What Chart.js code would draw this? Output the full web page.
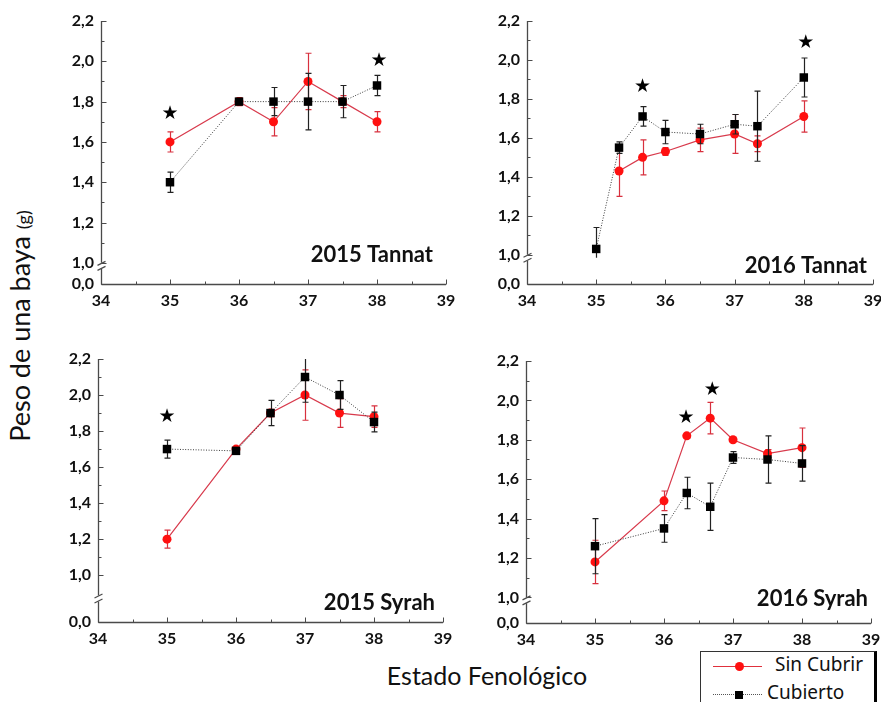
<!DOCTYPE html>
<html lang="es">
<head>
<meta charset="UTF-8">
<title>Peso de una baya</title>
<script src="https://cdn.jsdelivr.net/npm/chart.js"></script>
<style>
  html, body { margin: 0; padding: 0; background: #fff; overflow: hidden; }
  body { width: 881px; height: 702px; position: relative; font-family: Lato, sans-serif; color: #111; }
  canvas { position: absolute; }
  #ytitle { position: absolute; left: 19px; top: 326px; transform: translate(-50%, -50%) rotate(-90deg);
            white-space: nowrap; font-size: 27px; }
  #ytitle small { font-size: 18px; }
  #xtitle { position: absolute; left: 487px; top: 675px; transform: translate(-50%, -50%);
            white-space: nowrap; font-size: 25px; }
  .legend { position: absolute; left: 700px; top: 651px; width: 173px; height: 60px;
            border: 1px solid #333; border-right: 3px solid #000; font-family: "Noto Sans", sans-serif; font-size: 19px; }
  .legend .row { position: absolute; left: 0; height: 24px; width: 100%; }
  .legend .line { position: absolute; left: 12px; top: 12px; width: 49px; }
  .legend .mark { position: absolute; }
  .legend span.txt { position: absolute; top: -2px; line-height: 24px; }
</style>
</head>
<body>
<canvas id="p1" width="407" height="311" style="left:51px; top:1px"></canvas>
<canvas id="p2" width="408" height="311" style="left:477px; top:1px"></canvas>
<canvas id="p3" width="407" height="311" style="left:48px; top:339px"></canvas>
<canvas id="p4" width="407" height="310" style="left:476px; top:341px"></canvas>

<div id="ytitle">Peso de una baya <small>(g)</small></div>
<div id="xtitle">Estado Fenológico</div>

<div class="legend">
  <div class="row" style="top:2px">
    <div class="line" style="border-top:1.5px solid #e0303c"></div>
    <div class="mark" style="left:34px; top:8px; width:9px; height:9px; border-radius:50%; background:#ff1010"></div>
    <span class="txt" style="left:74px">Sin Cubrir</span>
  </div>
  <div class="row" style="top:30px">
    <div class="line" style="border-top:1.5px dotted #555"></div>
    <div class="mark" style="left:34px; top:9px; width:8px; height:8px; background:#000"></div>
    <span class="txt" style="left:66px">Cubierto</span>
  </div>
</div>

<script>
// escala X (estado fenológico) y escala Y (peso, g)
const xTicks = [34, 35, 36, 37, 38, 39];
const yTicks = [1.0, 1.2, 1.4, 1.6, 1.8, 2.0, 2.2];

// 2015 Tannat
const tannat15X = [35, 36, 36.5, 37, 37.5, 38];
const tannat15Sin = [1.60, 1.80, 1.70, 1.90, 1.80, 1.70];
const tannat15SinErr = [0.05, 0.02, 0.07, 0.14, 0.03, 0.05];
const tannat15Cub = [1.40, 1.80, 1.80, 1.80, 1.80, 1.88];
const tannat15CubErr = [0.05, 0.01, 0.07, 0.14, 0.08, 0.05];
const tannat15StarX = [35, 38.03];
const tannat15StarY = [1.74, 2.00];

// 2016 Tannat
const tannat16X = [35, 35.33, 35.67, 36, 36.5, 37, 37.33, 38];
const tannat16Sin = [null, 1.43, 1.50, 1.53, 1.59, 1.62, 1.57, 1.71];
const tannat16SinErr = [null, 0.13, 0.09, 0.02, 0.06, 0.10, 0.04, 0.08];
const tannat16Cub = [1.03, 1.55, 1.71, 1.63, 1.62, 1.67, 1.66, 1.91];
const tannat16CubErr = [0.11, 0.03, 0.05, 0.06, 0.05, 0.05, 0.18, 0.10];
const tannat16StarX = [35.67, 38.03];
const tannat16StarY = [1.86, 2.085];

// 2015 Syrah
const syrah15X = [35, 36, 36.5, 37, 37.5, 38];
const syrah15Sin = [1.20, 1.70, 1.90, 2.00, 1.90, 1.88];
const syrah15SinErr = [0.05, 0.01, 0.02, 0.14, 0.08, 0.06];
const syrah15Cub = [1.70, 1.69, 1.90, 2.10, 2.00, 1.85];
const syrah15CubErr = [0.05, 0.01, 0.07, 0.14, 0.08, 0.055];
const syrah15StarX = [35];
const syrah15StarY = [1.88];

// 2016 Syrah
const syrah16X = [35, 36, 36.33, 36.67, 37, 37.5, 38];
const syrah16Sin = [1.18, 1.49, 1.82, 1.91, 1.80, 1.73, 1.76];
const syrah16SinErr = [0.11, 0.05, 0.01, 0.08, 0.01, 0.02, 0.10];
const syrah16Cub = [1.26, 1.35, 1.53, 1.46, 1.71, 1.70, 1.68];
const syrah16CubErr = [0.14, 0.07, 0.08, 0.12, 0.03, 0.12, 0.09];
const syrah16StarX = [36.32, 36.70];
const syrah16StarY = [1.91, 2.05];

const AXIS = '#4a4a4a';
const RED_LINE = '#d83a4c';
const RED_ERR = '#d8303e';
const RED_DOT = '#ff1010';

function toPoints(xs, ys) {
  return xs.map((x, i) => ({ x: x, y: ys[i] })).filter(p => p.y !== null);
}
function toErrors(xs, ys, es) {
  return xs.map((x, i) => ({ x: x, y: ys[i], e: es[i] })).filter(p => p.y !== null);
}

// barras de error, ejes con marcas hacia adentro, corte del eje Y, asteriscos y título
const panelExtras = {
  id: 'panelExtras',
  beforeDatasetDraw(chart, args) {
    const ds = chart.data.datasets[args.index];
    if (!ds.errors) return;
    const xs = chart.scales.x, ys = chart.scales.y, ctx = chart.ctx;
    const area = chart.chartArea;
    const low = ys.getPixelForValue(chart.options.plugins.panelExtras.breakAt);
    ctx.save();
    ctx.strokeStyle = ds.errColor;
    ctx.lineWidth = 1.2;
    ds.errors.forEach(p => {
      const px = Math.round(xs.getPixelForValue(p.x)) + 0.5;
      const top = Math.max(area.top, ys.getPixelForValue(p.y + p.e));
      const bot = Math.min(low, ys.getPixelForValue(p.y - p.e));
      ctx.beginPath();
      ctx.moveTo(px, top); ctx.lineTo(px, bot);
      if (top > area.top + 0.5) { ctx.moveTo(px - 3, top); ctx.lineTo(px + 3, top); }
      if (bot < low - 0.5) { ctx.moveTo(px - 3, bot); ctx.lineTo(px + 3, bot); }
      ctx.stroke();
    });
    ctx.restore();
  },
  afterDraw(chart, args, opts) {
    const xs = chart.scales.x, ys = chart.scales.y, ctx = chart.ctx;
    const a = chart.chartArea;
    const L = Math.round(a.left) + 0.5, B = Math.round(a.bottom) + 0.5;
    const brk = ys.getPixelForValue(opts.breakAt);
    ctx.save();
    ctx.strokeStyle = AXIS;
    ctx.lineWidth = 1.3;
    // ejes
    ctx.beginPath();
    ctx.moveTo(L, B); ctx.lineTo(a.right, B);
    ctx.moveTo(L, B); ctx.lineTo(L, brk + 3);
    ctx.moveTo(L, brk - 3); ctx.lineTo(L, a.top);
    ctx.stroke();
    // marcas del eje X
    ctx.lineWidth = 1;
    ctx.beginPath();
    for (let v = xTicks[0]; v <= xTicks[xTicks.length - 1] + 1e-9; v += 0.5) {
      const px = Math.round(xs.getPixelForValue(v)) + 0.5;
      const len = Math.abs(v - Math.round(v)) < 1e-6 ? 5 : 3;
      ctx.moveTo(px, B); ctx.lineTo(px, B - len);
    }
    // marcas del eje Y
    ys.ticks.forEach(t => {
      const py = Math.round(ys.getPixelForValue(t.value)) + 0.5;
      ctx.moveTo(L, py); ctx.lineTo(L + 5, py);
    });
    for (let i = 0; i < yTicks.length - 1; i++) {
      const py = Math.round(ys.getPixelForValue((yTicks[i] + yTicks[i + 1]) / 2)) + 0.5;
      ctx.moveTo(L, py); ctx.lineTo(L + 3, py);
    }
    ctx.stroke();
    // corte del eje
    ctx.lineWidth = 1.2;
    ctx.beginPath();
    ctx.moveTo(L - 4, brk + 4.5); ctx.lineTo(L + 4, brk + 0.5);
    ctx.moveTo(L - 4, brk - 0.5); ctx.lineTo(L + 4, brk - 4.5);
    ctx.stroke();
    // asteriscos de significancia
    ctx.fillStyle = '#000';
    ctx.font = '19px "DejaVu Sans"';
    ctx.textAlign = 'center';
    ctx.textBaseline = 'middle';
    opts.starX.forEach((sx, i) => {
      ctx.fillText('\u2605', xs.getPixelForValue(sx), ys.getPixelForValue(opts.starY[i]));
    });
    // título del panel
    ctx.font = 'bold 22px Lato';
    ctx.textAlign = 'right';
    ctx.textBaseline = 'alphabetic';
    ctx.fillStyle = '#111';
    ctx.fillText(opts.title, a.right - opts.titleRight, a.bottom - opts.titleBottom);
    ctx.restore();
  }
};

function makePanel(id, p) {
  const tickFont = { family: 'Lato', size: 16, weight: 'bold' };
  return new Chart(document.getElementById(id), {
    type: 'line',
    data: {
      datasets: [
        {
          label: 'Cubierto',
          data: toPoints(p.x, p.cub),
          errors: toErrors(p.x, p.cub, p.cubErr),
          errColor: '#222',
          borderColor: '#3a3a3a',
          borderWidth: 1,
          borderDash: [1, 1.6],
          pointStyle: 'rect',
          pointRadius: 6,
          pointBackgroundColor: '#000',
          pointBorderWidth: 0,
          tension: 0
        },
        {
          label: 'Sin Cubrir',
          data: toPoints(p.x, p.sin),
          errors: toErrors(p.x, p.sin, p.sinErr),
          errColor: RED_ERR,
          borderColor: RED_LINE,
          borderWidth: 1.2,
          pointStyle: 'circle',
          pointRadius: 4.5,
          pointBackgroundColor: RED_DOT,
          pointBorderWidth: 0,
          tension: 0
        }
      ]
    },
    options: {
      responsive: false,
      animation: false,
      events: [],
      layout: { padding: { left: 0, top: 20, right: 12, bottom: 0 } },
      plugins: {
        legend: { display: false },
        tooltip: { enabled: false },
        panelExtras: {
          breakAt: p.breakAt, starX: p.starX, starY: p.starY,
          title: p.title, titleRight: p.titleRight, titleBottom: p.titleBottom
        }
      },
      scales: {
        x: {
          type: 'linear', min: xTicks[0], max: xTicks[xTicks.length - 1],
          grid: { display: false, drawTicks: false },
          border: { display: false },
          afterBuildTicks: s => { s.ticks = xTicks.map(v => ({ value: v })); },
          afterFit: s => { s.height = 28; s.paddingLeft = 0; s.paddingRight = 0; },
          ticks: { padding: 7, color: '#111', font: tickFont, autoSkip: false, maxRotation: 0 }
        },
        y: {
          type: 'linear', min: p.yMin, max: yTicks[yTicks.length - 1],
          grid: { display: false, drawTicks: false },
          border: { display: false },
          afterBuildTicks: s => { s.ticks = [p.yMin].concat(yTicks).map(v => ({ value: v })); },
          afterFit: s => { s.width = 50; s.paddingTop = 0; s.paddingBottom = 0; },
          ticks: {
            padding: 7, color: '#111', font: tickFont, autoSkip: false,
            callback: v => (v < 0.95 ? 0 : v).toFixed(1).replace('.', ',')
          }
        }
      }
    },
    plugins: [panelExtras]
  });
}

makePanel('p1', {
  x: tannat15X, sin: tannat15Sin, sinErr: tannat15SinErr, cub: tannat15Cub, cubErr: tannat15CubErr,
  starX: tannat15StarX, starY: tannat15StarY, yMin: 0.895, breakAt: 0.985,
  title: '2015 Tannat', titleRight: 13, titleBottom: 22
});
makePanel('p2', {
  x: tannat16X, sin: tannat16Sin, sinErr: tannat16SinErr, cub: tannat16Cub, cubErr: tannat16CubErr,
  starX: tannat16StarX, starY: tannat16StarY, yMin: 0.85, breakAt: 0.985,
  title: '2016 Tannat', titleRight: 6, titleBottom: 11
});
makePanel('p3', {
  x: syrah15X, sin: syrah15Sin, sinErr: syrah15SinErr, cub: syrah15Cub, cubErr: syrah15CubErr,
  starX: syrah15StarX, starY: syrah15StarY, yMin: 0.74, breakAt: 0.87,
  title: '2015 Syrah', titleRight: 8, titleBottom: 12
});
makePanel('p4', {
  x: syrah16X, sin: syrah16Sin, sinErr: syrah16SinErr, cub: syrah16Cub, cubErr: syrah16CubErr,
  starX: syrah16StarX, starY: syrah16StarY, yMin: 0.87, breakAt: 0.985,
  title: '2016 Syrah', titleRight: 3, titleBottom: 17
});
</script>
</body>
</html>
